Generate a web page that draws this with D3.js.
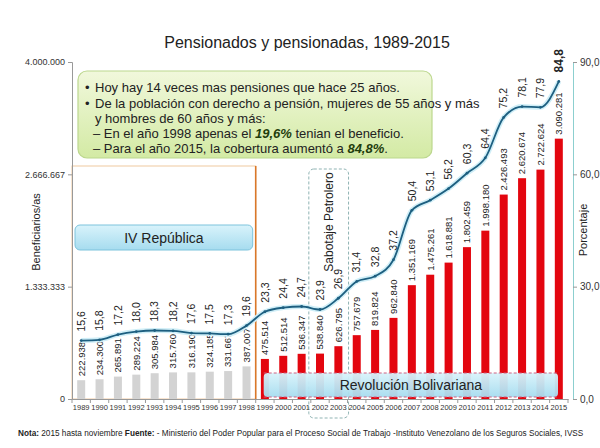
<!DOCTYPE html>
<html lang="es">
<head>
<meta charset="UTF-8">
<title>Pensionados y pensionadas</title>
<script src="https://d3js.org/d3.v7.min.js"></script>
<style>
	body { margin: 0; background: #fff; }
	svg text { font-family: "Liberation Sans", Arial, sans-serif; fill: #222; }
</style>
</head>
<body>
<script>
// datos
var years = ['1989','1990','1991','1992','1993','1994','1995','1996','1997','1998','1999','2000','2001','2002',
	'2003','2004','2005','2006','2007','2008','2009','2010','2011','2012','2013','2014','2015'];
var beneficiarios = [222938, 234300, 265891, 289224, 305984, 315760, 316190, 324185, 331667, 387007,
	475514, 512514, 536347, 538840, 626795, 757679, 819824, 962840, 1351169, 1475261,
	1618881, 1802459, 1998180, 2426493, 2620674, 2722624, 3090281];
var porcentaje = [15.6, 15.8, 17.2, 18.0, 18.3, 18.2, 17.6, 17.5, 17.3, 19.6, 23.3, 24.4, 24.7, 23.9,
	26.9, 31.4, 32.8, 37.2, 50.4, 53.1, 56.2, 60.3, 64.4, 75.2, 78.1, 77.9, 84.8];
var ticksLeft = [0, 1333333, 2666667, 4000000];
var ticksRight = [0, 30, 60, 90];
var cortePeriodo = '1999';
var sabotaje = ['2002', '2003'];

var es = d3.formatLocale({decimal: ',', thousands: '.', grouping: [3], currency: ['', '']});
var fmtN = es.format(',d');
var fmtP = es.format('.1f');

var W = 600, H = 448;
var svg = d3.select('body').append('svg').attr('width', W).attr('height', H);
var defs = svg.append('defs');

function grad(id, c1, c2) {
	var g = defs.append('linearGradient').attr('id', id).attr('x1', 0).attr('y1', 0).attr('x2', 0).attr('y2', 1);
	g.append('stop').attr('offset', '0%').attr('stop-color', c1);
	g.append('stop').attr('offset', '100%').attr('stop-color', c2);
}
grad('gVerde', '#f1f8dc', '#d3eaa4');
grad('gAzul', '#d9f3fb', '#a6dcef');

// escalas
var x = d3.scaleBand().domain(years).range([72, 568]);
var y = d3.scaleLinear().domain([0, 4000000]).range([399, 62]);
var y2 = d3.scaleLinear().domain([0, 90]).range([399, 62]);
var cx = function (d) { return x(d) + x.bandwidth() / 2; };

// titulo
svg.append('text').attr('x', 307).attr('y', 48).attr('text-anchor', 'middle')
	.style('font-size', '16px').text('Pensionados y pensionadas,  1989-2015');

// zona IV Republica
svg.append('rect').attr('x', 72).attr('y', 166).attr('width', x(cortePeriodo) - 72).attr('height', 233)
	.style('fill', 'none').style('stroke', '#f0c9a0').style('stroke-width', 1);
svg.append('line').attr('x1', x(cortePeriodo)).attr('x2', x(cortePeriodo)).attr('y1', 166).attr('y2', 399)
	.style('stroke', '#d9782a').style('stroke-width', 1.6);

// sabotaje
var sx0 = x(sabotaje[0]) - 2, sx1 = x(sabotaje[1]) + x.bandwidth() + 1;
svg.append('rect').attr('x', sx0).attr('y', 169).attr('width', sx1 - sx0).attr('height', 249)
	.attr('rx', 5).style('fill', 'none').style('stroke', '#8fb3b3').style('stroke-width', 1)
	.style('stroke-dasharray', '3,2');
svg.append('text').attr('transform', 'translate(' + ((sx0 + sx1) / 2 + 4) + ',222) rotate(-90)')
	.attr('text-anchor', 'middle').style('font-size', '12px').text('Sabotaje Petrolero');

// ejes
var axL = svg.append('g').attr('transform', 'translate(72,0)')
	.call(d3.axisLeft(y).tickValues(ticksLeft).tickFormat(fmtN).tickSize(4));
axL.select('.domain').style('stroke', '#999');
axL.selectAll('line').style('stroke', '#999');
axL.selectAll('text').style('font-size', '9px').style('fill', '#333');

var axR = svg.append('g').attr('transform', 'translate(573,0)')
	.call(d3.axisRight(y2).tickValues(ticksRight).tickFormat(fmtP).tickSize(4));
axR.select('.domain').style('stroke', '#8ccfcf');
axR.selectAll('line').style('stroke', '#999');
axR.selectAll('text').style('font-size', '10px').style('fill', '#333');

var axB = svg.append('g').attr('transform', 'translate(0,399)')
	.call(d3.axisBottom(x).tickSizeOuter(0).tickSize(0).tickPadding(6));
axB.select('.domain').style('stroke', '#999');
axB.selectAll('text').style('font-size', '7.5px').style('fill', '#333');
svg.append('g').selectAll('line').data(years.concat(['fin'])).enter().append('line')
	.attr('x1', function (d, i) { return 72 + i * x.step(); })
	.attr('x2', function (d, i) { return 72 + i * x.step(); })
	.attr('y1', 399).attr('y2', 403).style('stroke', '#999');

svg.append('text').attr('transform', 'translate(40,232) rotate(-90)').attr('text-anchor', 'middle')
	.style('font-size', '11px').text('Beneficiarios/as');
svg.append('text').attr('transform', 'translate(587,230) rotate(-90)').attr('text-anchor', 'middle')
	.style('font-size', '11px').text('Porcentaje');

// barras
var bw = 8;
svg.append('g').selectAll('rect').data(years).enter().append('rect')
	.attr('x', function (d) { return cx(d) - bw / 2; })
	.attr('y', function (d, i) { return y(beneficiarios[i]); })
	.attr('width', bw)
	.attr('height', function (d, i) { return 399 - y(beneficiarios[i]); })
	.style('fill', function (d) { return +d < +cortePeriodo ? '#d3d3d3' : '#e3060f'; });

svg.append('g').selectAll('text').data(years).enter().append('text')
	.attr('transform', function (d, i) {
		return 'translate(' + cx(d) + ',' + (y(beneficiarios[i]) - 4) + ') rotate(-90)';
	})
	.attr('dy', '0.35em').style('font-size', '9.5px')
	.text(function (d, i) { return fmtN(beneficiarios[i]); });

// caja Revolucion Bolivariana
var rx0 = x(cortePeriodo) + 8, rx1 = 558;
svg.append('rect').attr('x', rx0).attr('y', 373).attr('width', rx1 - rx0).attr('height', 24).attr('rx', 4)
	.style('fill', 'url(#gAzul)').style('opacity', 0.95);
svg.append('line').attr('x1', rx0).attr('x2', rx1).attr('y1', 373).attr('y2', 373)
	.style('stroke', '#d06080').style('stroke-dasharray', '3,2');
svg.append('line').attr('x1', rx0).attr('x2', rx1).attr('y1', 397).attr('y2', 397)
	.style('stroke', '#d06080').style('stroke-dasharray', '3,2');
svg.append('text').attr('x', (rx0 + rx1) / 2).attr('y', 390).attr('text-anchor', 'middle')
	.style('font-size', '14px').text('Revolución Bolivariana');

// caja IV Republica
svg.append('rect').attr('x', 75).attr('y', 225).attr('width', x(cortePeriodo) - 78).attr('height', 25).attr('rx', 5)
	.style('fill', 'url(#gAzul)').style('stroke', '#7cc3dc').style('stroke-width', 1);
svg.append('text').attr('x', 75 + (x(cortePeriodo) - 78) / 2).attr('y', 243).attr('text-anchor', 'middle')
	.style('font-size', '14px').text('IV República');

// linea porcentaje
var line = d3.line().x(function (d) { return cx(d); })
	.y(function (d, i) { return y2(porcentaje[i]); }).curve(d3.curveMonotoneX);
svg.append('path').datum(years).attr('d', line)
	.style('fill', 'none').style('stroke', '#cfeef7').style('stroke-width', 5);
svg.append('path').datum(years).attr('d', line)
	.style('fill', 'none').style('stroke', '#1d5f80').style('stroke-width', 1.8);
svg.append('g').selectAll('circle').data(years).enter().append('circle')
	.attr('cx', cx).attr('cy', function (d, i) { return y2(porcentaje[i]); }).attr('r', 1.4)
	.style('fill', '#1d5f80');

svg.append('g').selectAll('text').data(years).enter().append('text')
	.attr('transform', function (d, i) {
		return 'translate(' + cx(d) + ',' + (y2(porcentaje[i]) - 9) + ') rotate(-90)';
	})
	.attr('dy', '0.35em')
	.style('font-size', function (d, i) { return i === years.length - 1 ? '12px' : '10.5px'; })
	.style('font-weight', function (d, i) { return i === years.length - 1 ? 'bold' : 'normal'; })
	.text(function (d, i) { return fmtP(porcentaje[i]); });

// caja de texto verde
svg.append('rect').attr('x', 78).attr('y', 71).attr('width', 354).attr('height', 87).attr('rx', 9)
	.style('fill', 'url(#gVerde)').style('stroke', '#bcd78e').style('stroke-width', 1.2);
var nota = svg.append('g').style('font-size', '13px');
nota.append('text').attr('x', 85).attr('y', 92).text('•');
nota.append('text').attr('x', 95).attr('y', 92).text('Hoy hay 14 veces mas pensiones que hace 25 años.');
nota.append('text').attr('x', 85).attr('y', 108).text('•');
nota.append('text').attr('x', 95).attr('y', 108).text('De la población con derecho a pensión, mujeres de 55 años y más');
nota.append('text').attr('x', 95).attr('y', 123).text('y hombres de 60 años y más:');
var l4 = nota.append('text').attr('x', 93).attr('y', 138);
l4.append('tspan').text('–  En el año 1998 apenas el ');
l4.append('tspan').style('font-weight', 'bold').style('font-style', 'italic').style('fill', '#1f3d0c').text('19,6%');
l4.append('tspan').text(' tenian el beneficio.');
var l5 = nota.append('text').attr('x', 93).attr('y', 153);
l5.append('tspan').text('–  Para el año 2015, la cobertura aumentó a ');
l5.append('tspan').style('font-weight', 'bold').style('font-style', 'italic').style('fill', '#1f3d0c').text('84,8%');
l5.append('tspan').text('.');

// pie (se comprime horizontalmente para caber)
var pieG = svg.append('g');
var pie = pieG.append('text').attr('x', 0).attr('y', 0).style('font-size', '9.5px');
pie.append('tspan').style('font-weight', 'bold').text('Nota:');
pie.append('tspan').text(' 2015 hasta noviembre ');
pie.append('tspan').style('font-weight', 'bold').text('Fuente:');
pie.append('tspan').text(' - Ministerio del Poder Popular para el Proceso Social de Trabajo  -Instituto Venezolano de los Seguros Sociales, IVSS');
var largo = pie.node().getComputedTextLength();
pieG.attr('transform', 'translate(18,436) scale(' + (566 / largo) + ',1)');
</script>
</body>
</html>
